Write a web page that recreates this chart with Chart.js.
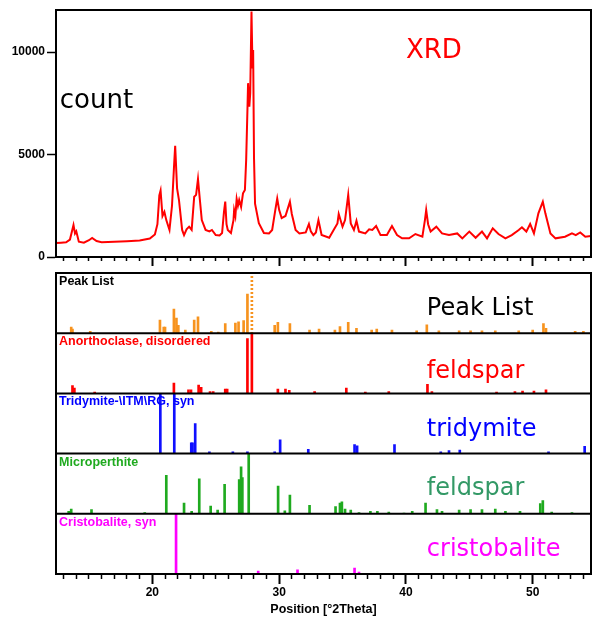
<!DOCTYPE html>
<html>
<head>
<meta charset="utf-8">
<script src="https://cdn.jsdelivr.net/npm/chart.js@4/dist/chart.umd.min.js"></script>
<style>
  html, body { margin: 0; padding: 0; background: #fff; }
  #wrap { position: relative; width: 592px; height: 617px; overflow: hidden; }
  #top { position: absolute; left: 0; top: 0; }
  #bottom { position: absolute; left: 0; top: 268px; }
</style>
</head>
<body>
<div id="wrap">
  <canvas id="top" width="592" height="268"></canvas>
  <canvas id="bottom" width="592" height="349"></canvas>
</div>
<script>
// --- data ---
const xMin = 12.4, xMax = 54.6, yMax = 12050;
const xTicks = [13, 14, 15, 16, 17, 18, 19, 20, 21, 22, 23, 24, 25, 26, 27, 28, 29, 30, 31, 32, 33,
  34, 35, 36, 37, 38, 39, 40, 41, 42, 43, 44, 45, 46, 47, 48, 49, 50, 51, 52, 53, 54];
const yTicks = [0, 5000, 10000];

// XRD pattern (°2Theta, counts)
const xrdPos = [12.4, 12.8, 13.2, 13.5, 13.78, 13.9, 14.0, 14.2, 14.6, 15.0, 15.25, 15.6, 16.0, 17.0, 18.0,
  19.0, 19.8, 20.2, 20.4, 20.55, 20.65, 20.8, 20.95, 21.1, 21.35, 21.55, 21.7, 21.8, 21.95, 22.1, 22.35,
  22.5, 22.7, 22.9, 23.1, 23.3, 23.45, 23.6, 23.75, 23.9, 24.2, 24.5, 24.7, 25.0, 25.3, 25.5, 25.65, 25.75,
  25.85, 25.95, 26.2, 26.4, 26.45, 26.55, 26.65, 26.75, 26.85, 27.0, 27.15, 27.3, 27.4, 27.5, 27.55, 27.65,
  27.72, 27.82, 27.9, 27.95, 28.02, 28.1, 28.4, 28.8, 29.2, 29.45, 29.7, 29.85, 30.0, 30.2, 30.5, 30.85,
  31.0, 31.3, 31.6, 32.1, 32.35, 32.5, 32.7, 32.9, 33.1, 33.35, 33.95, 34.3, 34.6, 34.7, 35.0, 35.2, 35.45,
  35.65, 35.9, 36.1, 36.3, 36.8, 37.1, 37.35, 37.65, 38.0, 38.5, 38.9, 39.3, 39.7, 40.25, 40.75, 41.3, 41.5,
  41.6, 41.75, 41.95, 42.4, 42.85, 43.4, 44.05, 44.45, 45.0, 45.5, 46.0, 46.4, 46.85, 47.3, 47.85, 48.35,
  48.9, 49.15, 49.5, 49.8, 50.1, 50.45, 50.8, 51.0, 51.4, 51.8, 52.55, 53.1, 53.4, 53.75, 54.15, 54.6];
const xrdCount = [680, 700, 720, 850, 1560, 1150, 1250, 750, 700, 820, 930, 780, 720, 750, 770,
  800, 900, 1100, 1600, 3000, 3240, 2000, 2200, 1800, 1320, 2500, 4300, 5420, 3350, 2780, 1320,
  1070, 1350, 1480, 1320, 2940, 3030, 3800, 2780, 1800, 1320, 1250, 1320, 1070, 1050, 1170, 2200, 2700,
  1600, 1320, 1170, 1800, 2290, 2000, 2830, 2500, 2780, 2440, 3110, 3270, 4730, 7170, 8480, 7330,
  8000, 11970, 9200, 10100, 4800, 2600, 1650, 1170, 1150, 1320, 2300, 2850, 2300, 1900, 2000, 2700,
  2100, 1320, 1150, 1200, 1610, 1250, 1070, 1200, 1800, 1070, 940, 1320, 1640, 2100, 1480, 1800, 3030,
  1640, 1320, 1770, 1240, 1150, 1350, 1320, 1510, 1070, 1070, 1510, 1070, 910, 910, 1120, 990, 1800,
  2290, 1600, 1240, 1480, 1150, 1070, 1150, 910, 1240, 940, 1240, 910, 1400, 1120, 910, 1070,
  1320, 1450, 1240, 1610, 1150, 2130, 2700, 2130, 1150, 910, 990, 1150, 1070, 1200, 990, 1030];

// stick patterns (°2Theta, relative intensity %)
const peakListPos = [13.6, 13.7, 15.1, 20.6, 20.9, 21.0, 21.7, 21.9, 22.05, 22.6, 23.3, 23.6, 24.65, 25.2,
  25.75, 26.55, 26.8, 27.2, 27.5, 27.85, 29.65, 29.9, 30.85, 32.4, 33.15, 34.4, 34.8, 35.45, 36.1, 37.3,
  37.7, 38.9, 40.85, 41.65, 42.6, 44.2, 45.1, 46.0, 47.05, 48.9, 50.0, 50.85, 51.05, 53.35, 54.0];
const peakListInt = [10, 7, 3, 22, 10, 10, 40, 25, 13, 5, 22, 27, 3, 2,
  16, 17, 19, 21, 65, 100, 13, 18, 16, 5, 7, 5, 11, 18, 8, 5,
  7, 5, 4, 14, 4, 4, 4, 4, 4, 4, 5, 16, 8, 3, 3];

const anorthPos = [13.7, 13.85, 15.45, 21.7, 22.85, 23.05, 23.65, 23.85, 24.55, 24.8, 25.75, 25.9, 27.5,
  27.85, 29.9, 30.5, 30.8, 32.8, 35.3, 36.8, 38.65, 41.7, 42.05, 47.15, 48.6, 49.2, 50.1, 51.05];
const anorthInt = [13, 9, 2, 17, 6, 6, 14, 10, 3, 3, 7, 7, 91,
  100, 7, 7, 5, 3, 9, 2, 3, 15, 3, 2, 3, 4, 4, 6];

const tridyPos = [20.63, 21.73, 23.07, 23.17, 23.38, 24.5, 26.35, 27.5, 29.65, 30.08, 32.3, 35.95, 36.15,
  39.1, 42.75, 43.4, 44.25, 51.25, 54.1];
const tridyInt = [100, 100, 18, 18, 50, 3, 3, 3, 3, 23, 7, 15, 13,
  15, 3, 5, 6, 3, 12];

const microPos = [13.4, 13.6, 15.2, 19.4, 21.1, 22.5, 23.1, 23.7, 24.6, 25.15, 25.7, 26.85, 27.0, 27.1,
  27.6, 29.92, 30.45, 30.85, 32.4, 34.45, 34.8, 34.95, 35.2, 35.65, 36.3, 37.2, 37.75, 38.65, 39.85,
  40.5, 41.55, 42.45, 42.85, 44.2, 45.1, 46.0, 47.05, 47.85, 49.0, 50.6, 50.8, 51.5, 53.1];
const microInt = [4, 8, 7, 2, 64, 18, 4, 58, 13, 6, 49, 57, 78, 60,
  100, 46, 5, 31, 14, 12, 18, 20, 8, 6, 2, 4, 4, 3, 1,
  4, 18, 7, 4, 6, 7, 7, 8, 4, 4, 17, 22, 3, 2];

const cristoPos = [21.87, 28.35, 31.45, 35.95, 36.3, 42.8, 46.9, 48.6];
const cristoInt = [100, 5, 7, 10, 3, 1, 1, 1];

// --- helpers ---
const boldFont = { family: "'Liberation Sans', Arial, sans-serif", weight: 'bold', size: 12 };
const bigFont = "24px 'DejaVu Sans', Verdana, sans-serif";
const smallBold = "bold 12.5px 'Liberation Sans', Arial, sans-serif";

function pts(xs, ys) {
  return xs.map((x, i) => ({ x: x, y: ys[i] }));
}

function xAxis(tickLen, minorLen, showLabels) {
  return {
    type: 'linear',
    min: xMin,
    max: xMax,
    offset: false,
    afterBuildTicks: s => { s.ticks = xTicks.map(v => ({ value: v })); },
    border: { display: true, color: '#000', width: 2 },
    grid: {
      offset: false,
      drawOnChartArea: false,
      tickLength: tickLen,
      tickColor: '#000',
      tickWidth: c => (c.tick && c.tick.value % 10 === 0) ? 2 : 1.5,
      tickBorderDash: c => (c.tick && c.tick.value % 10 === 0) ? [] : [minorLen, 60]
    },
    ticks: {
      display: showLabels,
      autoSkip: false,
      maxRotation: 0,
      padding: 1,
      color: '#000',
      font: boldFont,
      callback: v => (v % 10 === 0 ? String(v) : '')
    }
  };
}

// black box round the plot, plus the lines between the stick panels
const framePlugin = {
  id: 'frame',
  afterDatasetsDraw(chart) {
    const { ctx, chartArea: a, scales } = chart;
    ctx.save();
    ctx.strokeStyle = '#000';
    ctx.lineWidth = 2;
    ctx.strokeRect(a.left, a.top, a.right - a.left, a.bottom - a.top);
    Object.values(scales).forEach(s => {
      if (s.options.stack && s.bottom < a.bottom - 1) {
        ctx.beginPath();
        ctx.moveTo(a.left, s.bottom);
        ctx.lineTo(a.right, s.bottom);
        ctx.stroke();
      }
    });
    ctx.restore();
  }
};

// text notes placed in data coordinates
const notesPlugin = {
  id: 'notes',
  afterDraw(chart, args, opts) {
    const ctx = chart.ctx;
    ctx.save();
    ctx.textBaseline = 'alphabetic';
    ctx.textAlign = 'left';
    (opts.items || []).forEach(n => {
      ctx.font = n.font;
      ctx.fillStyle = n.color;
      ctx.fillText(n.text, chart.scales.x.getPixelForValue(n.x), chart.scales[n.axis].getPixelForValue(n.y));
    });
    ctx.restore();
  }
};

// --- top chart: measured pattern ---
new Chart(document.getElementById('top'), {
  type: 'line',
  data: {
    datasets: [{
      data: pts(xrdPos, xrdCount),
      borderColor: '#ff0000',
      borderWidth: 2,
      pointRadius: 0,
      tension: 0
    }]
  },
  options: {
    responsive: false,
    animation: false,
    layout: { padding: { left: 0, right: 1, top: 10, bottom: 0 } },
    plugins: {
      legend: { display: false },
      tooltip: { enabled: false },
      notes: {
        items: [
          { text: 'count', x: 12.7, y: 7250, axis: 'y', color: '#000', font: "26px 'DejaVu Sans', Verdana, sans-serif" },
          { text: 'XRD', x: 40.0, y: 9710, axis: 'y', color: '#ff0000', font: "26px 'DejaVu Sans', Verdana, sans-serif" }
        ]
      }
    },
    scales: {
      x: Object.assign(xAxis(9, 3, false), { afterFit: s => { s.height = 11; } }),
      y: {
        min: 0,
        max: yMax,
        afterBuildTicks: s => { s.ticks = yTicks.map(v => ({ value: v })); },
        afterFit: s => { s.width = 56; },
        border: { display: true, color: '#000', width: 2 },
        grid: { drawOnChartArea: false, tickLength: 9, tickColor: '#000', tickWidth: 1.5 },
        ticks: { padding: 2, color: '#000', font: boldFont, callback: v => String(v) }
      }
    }
  },
  plugins: [framePlugin, notesPlugin]
});

// --- bottom chart: reference stick patterns ---
const orange = '#f7931e';
const dots = document.createElement('canvas');
dots.width = 4; dots.height = 4;
const dctx = dots.getContext('2d');
dctx.fillStyle = orange;
dctx.fillRect(0, 0, 4, 2);
const dotted = dctx.createPattern(dots, 'repeat');

const phases = [
  { name: 'Peak List', pos: peakListPos, val: peakListInt, color: orange, labelColor: '#000',
    note: 'Peak List', noteColor: '#000', noteY: 31 },
  { name: 'Anorthoclase, disordered', pos: anorthPos, val: anorthInt, color: '#ff0000', labelColor: '#ff0000',
    note: 'feldspar', noteColor: '#ff0000', noteY: 26 },
  { name: 'Tridymite-\\ITM\\RG, syn', pos: tridyPos, val: tridyInt, color: '#1010ff', labelColor: '#0000ff',
    note: 'tridymite', noteColor: '#0000ff', noteY: 30 },
  { name: 'Microperthite', pos: microPos, val: microInt, color: '#1faa1f', labelColor: '#1faa1f',
    note: 'feldspar', noteColor: '#339966', noteY: 32 },
  { name: 'Cristobalite, syn', pos: cristoPos, val: cristoInt, color: '#ff00ff', labelColor: '#ff00ff',
    note: 'cristobalite', noteColor: '#ff00ff', noteY: 30 }
];

const bottomScales = {
  x: Object.assign(xAxis(10, 4, true), {
    afterFit: s => { s.height = 43; },
    title: {
      display: true,
      text: 'Position [°2Theta]',
      color: '#000',
      font: { family: "'Liberation Sans', Arial, sans-serif", weight: 'bold', size: 12.5 },
      padding: { top: 0, bottom: 0 }
    }
  })
};
// stacked panels are laid out bottom-up, so add them last-first
for (let i = phases.length - 1; i >= 0; i--) {
  bottomScales['y' + i] = {
    type: 'linear',
    position: 'left',
    stack: 'phases',
    stackWeight: 1,
    min: 0,
    max: 100,
    afterFit: s => { s.width = 0; },
    ticks: { display: false },
    grid: { display: false },
    border: { display: false }
  };
}
const notes = [];
phases.forEach((p, i) => {
  notes.push({ text: p.name, x: 12.64, y: 80, axis: 'y' + i, color: p.labelColor, font: smallBold });
  notes.push({ text: p.note, x: 41.65, y: p.noteY, axis: 'y' + i, color: p.noteColor, font: bigFont });
});

new Chart(document.getElementById('bottom'), {
  type: 'bar',
  data: {
    datasets: phases.map((p, i) => ({
      data: pts(p.pos, p.val),
      yAxisID: 'y' + i,
      xAxisID: 'x',
      backgroundColor: i === 0 ? p.val.map(v => (v === 100 ? dotted : p.color)) : p.color,
      barThickness: 2,
      grouped: false
    }))
  },
  options: {
    responsive: false,
    animation: false,
    layout: { padding: { left: 56, right: 1, top: 5, bottom: 0 } },
    plugins: {
      legend: { display: false },
      tooltip: { enabled: false },
      notes: { items: notes }
    },
    scales: bottomScales
  },
  plugins: [framePlugin, notesPlugin]
});
</script>
</body>
</html>
